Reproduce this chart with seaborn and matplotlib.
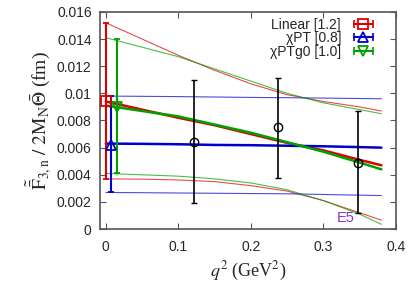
import matplotlib
matplotlib.use("Agg")
import matplotlib.pyplot as plt
from matplotlib.lines import Line2D
from matplotlib.legend_handler import HandlerLine2D, HandlerTuple
import seaborn as sns
import pandas as pd

# lattice points (E5)
q2_data = [0.121, 0.238, 0.348]
f3_data = [0.0064, 0.0075, 0.0049]
f3_lo = [0.0019, 0.0038, 0.0012]
f3_hi = [0.0110, 0.0111, 0.0087]

# extrapolated values at q2 ~ 0
fits = ["Linear [1.2]", "\u03c7PT [0.8]", "\u03c7PTg0 [1.0]"]
fit_x0 = [0.0, 0.007, 0.016]
fit_y0 = [0.0094, 0.0062, 0.0090]
fit_lo0 = [0.0037, 0.0027, 0.0041]
fit_hi0 = [0.0152, 0.0098, 0.0140]

# fit curves
q2_curve = [0.0, 0.05, 0.1, 0.15, 0.2, 0.25, 0.3, 0.35, 0.38]
lin_mid = [0.0094, 0.0088, 0.0082, 0.00765, 0.0070, 0.00635, 0.0058, 0.0051, 0.0047]
lin_hi = [0.0152, 0.0140, 0.0128, 0.0117, 0.0107, 0.0099, 0.0094, 0.0090, 0.0087]
lin_lo = [0.0037, 0.00368, 0.00362, 0.0035, 0.0032, 0.0028, 0.0021, 0.0012, 0.00066]
chi_mid = [0.0063, 0.00628, 0.00625, 0.0062, 0.00618, 0.00614, 0.0061, 0.00604, 0.0060]
chi_hi = [0.0098, 0.00978, 0.00976, 0.00973, 0.0097, 0.00968, 0.00965, 0.00962, 0.0096]
chi_lo = [0.0027, 0.00268, 0.00266, 0.00264, 0.00262, 0.0026, 0.00255, 0.0025, 0.00247]
g0_mid = [0.0091, 0.0087, 0.0083, 0.0077, 0.0071, 0.0064, 0.0057, 0.0049, 0.0044]
g0_hi = [0.0141, 0.0134, 0.0127, 0.0118, 0.0109, 0.0100, 0.0093, 0.0088, 0.0085]
g0_lo = [0.0041, 0.0040, 0.0039, 0.0037, 0.0034, 0.0029, 0.0021, 0.0011, 0.00035]

colors = ["#dd0000", "#0000cc", "#00a000"]
markers = ["s", "^", "v"]

sns.set_style("ticks")
plt.rcParams["font.family"] = ["Liberation Sans", "DejaVu Sans"]
plt.rcParams["mathtext.fontset"] = "stix"
plt.rcParams["xtick.direction"] = "in"
plt.rcParams["ytick.direction"] = "in"

fig = plt.figure(figsize=(4.15, 2.9), dpi=100)
ax = fig.add_axes([0.241, 0.21, 0.713, 0.749])

curves = [(lin_mid, lin_hi, lin_lo), (chi_mid, chi_hi, chi_lo), (g0_mid, g0_hi, g0_lo)]
for (mid, hi, lo), c in zip(curves, colors):
    df = pd.DataFrame({"q2": q2_curve, "mid": mid, "hi": hi, "lo": lo})
    sns.lineplot(data=df, x="q2", y="hi", color=c, lw=0.8, alpha=0.7, ax=ax)
    sns.lineplot(data=df, x="q2", y="lo", color=c, lw=0.8, alpha=0.7, ax=ax)
    sns.lineplot(data=df, x="q2", y="mid", color=c, lw=1.8, ax=ax)

for i, c in enumerate(colors):
    y = fit_y0[i]
    ax.errorbar([fit_x0[i]], [y], yerr=[[y - fit_lo0[i]], [fit_hi0[i] - y]],
                fmt=markers[i], mfc="none", mec=c, ecolor=c, ms=7, mew=1.3,
                elinewidth=1.5, capsize=2.5, capthick=1.2, zorder=5)

yerr = [[f - l for f, l in zip(f3_data, f3_lo)], [h - f for f, h in zip(f3_data, f3_hi)]]
ax.errorbar(q2_data, f3_data, yerr=yerr, fmt="o", mfc="none", mec="black",
            ecolor="black", ms=6, mew=1.0, elinewidth=1.2, capsize=2.5, zorder=6)

ax.text(0.318, 0.0005, "E5", color="#8833cc", fontsize=10.5)

ax.set_xlim(-0.008, 0.4)
ax.set_ylim(0, 0.016)
ax.set_xticks([0, 0.1, 0.2, 0.3, 0.4])
ax.set_xticklabels(["0", "0.1", "0.2", "0.3", "0.4"])
ax.set_yticks([0, 0.002, 0.004, 0.006, 0.008, 0.01, 0.012, 0.014, 0.016])
ax.set_yticklabels(["0", "0.002", "0.004", "0.006", "0.008", "0.01", "0.012", "0.014", "0.016"])
ax.tick_params(labelsize=10, top=True, right=True, length=4, width=0.8, color="#555555")
ax.tick_params(axis="x", pad=8)
ax.tick_params(axis="y", pad=6)
for s in ax.spines.values():
    s.set_color("#555555")
    s.set_linewidth(1.2)

ax.set_xlabel(r"$q^2$ (GeV$^2$)", fontsize=13, family="Liberation Serif", labelpad=4)
ax.set_ylabel(r"$\tilde{\bar{\mathrm{F}}}_{3,\mathrm{n}}\ /\ 2\mathrm{M}_\mathrm{N}\bar{\Theta}$ (fm)",
              fontsize=14, family="Liberation Serif", labelpad=2)

handles = []
hmap = {}
for c, m in zip(colors, markers):
    caps = Line2D([], [], color=c, lw=1.5, marker="|", ms=6, mew=1.2)
    mk = Line2D([], [], ls="none", marker=m, mfc="none", mec=c, ms=7, mew=1.3)
    hmap[caps] = HandlerLine2D(numpoints=2)
    hmap[mk] = HandlerLine2D(numpoints=1)
    handles.append((caps, mk))
hmap[tuple] = HandlerTuple(ndivide=1)
ax.legend(handles, fits, handler_map=hmap, loc="upper right", markerfirst=False,
          frameon=False, fontsize=10, handlelength=2.0, handletextpad=0.6,
          labelspacing=-0.05, borderaxespad=0.2, bbox_to_anchor=(0.965, 1.01))

fig.savefig("out.png", dpi=100)
